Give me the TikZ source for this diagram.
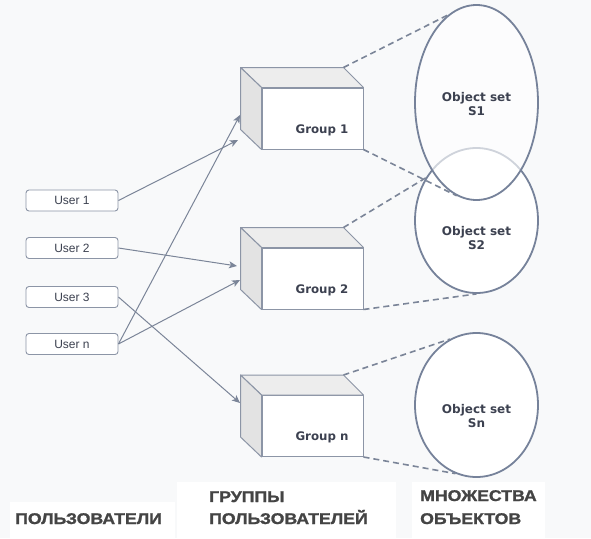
\documentclass[tikz,border=0pt]{standalone}
\usepackage{graphicx}
\usepackage{fontspec}
\setmainfont{Liberation Sans}[BoldFont={Liberation Sans Bold}]
\newfontfamily\labfont{Liberation Sans Bold}[FakeBold=1.2]
\newfontfamily\dvfont{DejaVu Sans}[BoldFont={DejaVu Sans Bold}]
\usetikzlibrary{arrows.meta,shapes.geometric}
\definecolor{bg}{HTML}{F8F9FA}
\definecolor{lc}{HTML}{7B8598}
\definecolor{tc}{HTML}{3C4150}
\definecolor{lab}{HTML}{444444}
\definecolor{sidef}{HTML}{E3E3E3}
\definecolor{topf}{HTML}{EDEDED}
\definecolor{boxl}{HTML}{8C95A6}
\definecolor{ell}{HTML}{76829A}
\newcommand\wlab[1]{\scalebox{1.14}[1]{#1}}
\tikzset{
  userbox/.style={draw=boxl, fill=white, rounded corners=3pt, minimum width=92pt, minimum height=21pt, inner sep=0pt, line width=0.9pt, text=tc, font=\fontsize{12}{14}\selectfont},
  gface/.style={draw=boxl, fill=white, minimum width=101pt, minimum height=61pt, inner sep=0pt, line width=1pt},
  gtop/.style={draw=boxl, fill=topf, line width=1pt, line join=round},
  gside/.style={draw=boxl, fill=sidef, line width=1pt, line join=round},
  gtext/.style={text=tc, font=\dvfont\bfseries\fontsize{11.8}{14}\selectfont, inner sep=0pt},
  oset/.style={draw=ell, fill=white, ellipse, line width=1.8pt, inner sep=0pt, minimum width=123pt},
  otext/.style={text=tc, font=\dvfont\bfseries\fontsize{12}{14}\selectfont, align=center, inner sep=0pt},
  arr/.style={draw=lc, line width=1pt, -{Stealth[length=8pt, width=7pt, inset=2pt]}},
  dsh/.style={draw=lc, line width=1.6pt, dash pattern=on 6pt off 4pt},
  blab/.style={text=lab, font=\labfont\fontsize{15.5}{18}\selectfont, inner sep=0pt, anchor=base west},
  patch/.style={fill=white, draw=none}
}
\newcommand\mygroup[4]{%
  \node[gface] (#1) at (#2,#3) {};
  \coordinate (#1-btr) at ([shift={(-20,-20)}]#1.north east);
  \coordinate (#1-btl) at ([shift={(-21,-20)}]#1.north west);
  \coordinate (#1-bbl) at ([shift={(-21,-20)}]#1.south west);
  \filldraw[gtop] (#1.north west) -- (#1-btl) -- (#1-btr) -- (#1.north east) -- cycle;
  \filldraw[gside] (#1.north west) -- (#1-btl) -- (#1-bbl) -- (#1.south west) -- cycle;
  \node[gtext, anchor=base] (#1-t) at ([shift={(9.5,14.5)}]#1.center) {#4};
}
\begin{document}
\begin{tikzpicture}[x=1pt, y=-1pt]
\useasboundingbox (0,0) rectangle (591,538);
\fill[bg] (0,0) rectangle (591,538);
% white patches behind bottom labels
\fill[patch] (10,502) rectangle (175,538);
\fill[patch] (177,482) rectangle (396,538);
\fill[patch] (412,482) rectangle (545,538);

% users
\node[userbox] (u1) at (72,200.5) {User 1};
\node[userbox] (u2) at (72,248) {User 2};
\node[userbox] (u3) at (72,297) {User 3};
\node[userbox] (un) at (72,344) {User n};

% groups
\mygroup{g1}{312.5}{118.5}{Group 1}
\mygroup{g2}{312.5}{278.5}{Group 2}
\mygroup{gn}{312.5}{426}{Group n}

% arrow targets on the boxes
\coordinate (g1a) at (238,140);
\coordinate (g1b) at (240,115);
\coordinate (g2a) at (237,266);
\coordinate (g2b) at (240,280);
\coordinate (gna) at (240,403);

\draw[arr] (u1.east) -- (g1a);
\draw[arr] (un.east) -- (g1b);
\draw[arr] (u2.east) -- (g2a);
\draw[arr] (un.east) -- (g2b);
\draw[arr] (u3.east) -- (gna);

% object sets
\node[oset, minimum height=145pt] (s2) at (476.5,220.5) {};
\node[oset, minimum height=195pt, fill opacity=0.65] (s1) at (476.5,102.5) {};
\node[oset, minimum height=144pt] (sn) at (476.5,405) {};
\node[otext] (s1t) at (476.5,104) {Object set\\S1};
\node[otext] (s2t) at (476.5,238.5) {Object set\\S2};
\node[otext] (snt) at (476.5,416.5) {Object set\\Sn};

% dashed links
\draw[dsh] (g1-btr) -- (s1.108);
\draw[dsh] (g1.south east) -- (s1.258);
\draw[dsh] (g2-btr) -- (s2.140);
\draw[dsh] (g2.south east) -- (s2.south);
\draw[dsh] (gn-btr) -- (sn.112);
\draw[dsh] (gn.south east) -- (sn.253);

% bottom labels
\node[blab] (l1) at (15,524) {\wlab{ПОЛЬЗОВАТЕЛИ}};
\node[blab] (l2a) at (209,502) {\wlab{ГРУППЫ}};
\node[blab] (l2b) at (209,524) {\wlab{ПОЛЬЗОВАТЕЛЕЙ}};
\node[blab] (l3a) at (420,501) {\wlab{МНОЖЕСТВА}};
\node[blab] (l3b) at (420,524) {\wlab{ОБЪЕКТОВ}};
\end{tikzpicture}
\end{document}
